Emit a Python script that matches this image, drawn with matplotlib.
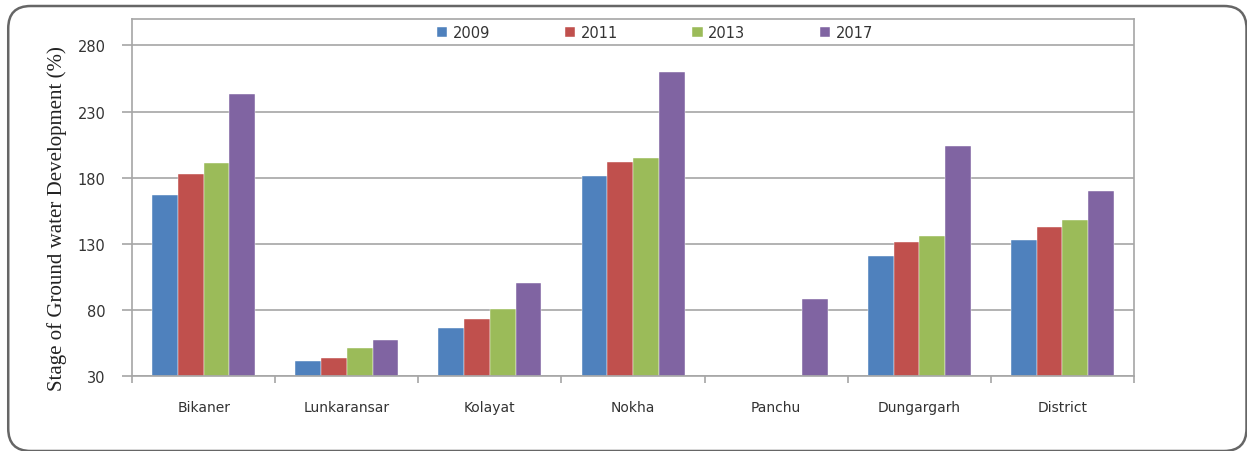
import matplotlib.pyplot as plt
import numpy as np
from matplotlib.patches import FancyBboxPatch

blocks = ["Bikaner", "Lunkaransar", "Kolayat", "Nokha", "Panchu", "Dungargarh", "District"]
years = ["2009", "2011", "2013", "2017"]
v2009 = [167, 41, 66, 181, np.nan, 121, 133]
v2011 = [183, 44, 73, 192, np.nan, 131, 143]
v2013 = [191, 51, 81, 195, np.nan, 136, 148]
v2017 = [243, 57, 100, 260, 88, 204, 170]
colors = ["#4F81BD", "#C0504D", "#9BBB59", "#8064A2"]

fig = plt.figure(figsize=(12.47, 4.52), dpi=100)
# rounded outer frame
frame = FancyBboxPatch(
    (0.0066, 0.0), 0.993, 0.9845,
    boxstyle="round,pad=0,rounding_size=0.018",
    transform=fig.transFigure, fill=False, edgecolor="#666666",
    linewidth=1.8, mutation_aspect=1247 / 452, zorder=0,
)
fig.patches.append(frame)

ax = fig.add_axes([0.1059, 0.1659, 0.8035, 0.7899])
x = np.arange(len(blocks))
w = 0.18
for i, (vals, c, lab) in enumerate(zip([v2009, v2011, v2013, v2017], colors, years)):
    vals = np.array(vals, dtype=float)
    ax.bar(x + (i - 1.5) * w, vals - 30, w, bottom=30, color=c, label=lab,
           edgecolor="white", linewidth=0.3)

ax.set_xlim(-0.5, len(blocks) - 0.5)
ax.set_ylim(30, 300)
ax.set_yticks([30, 80, 130, 180, 230, 280])
ax.yaxis.grid(True, color="#a6a6a6", linewidth=1.2)
ax.set_axisbelow(True)
for s in ax.spines.values():
    s.set_color("#a6a6a6")
    s.set_linewidth(1.2)

ax.set_xticks(x)
ax.set_xticklabels(blocks, fontsize=10, color="#333333")
ax.set_xticks(np.arange(-0.5, len(blocks)), minor=True)
ax.tick_params(axis="x", which="major", length=0, pad=17)
ax.tick_params(axis="x", which="minor", length=5, color="#a6a6a6", width=1.2)
ax.tick_params(axis="y", length=7, color="#a6a6a6", width=1.2, labelsize=10.5,
               labelcolor="#333333", pad=12)

fig.text(57 / 1247, 1 - 219 / 452, "Stage of Ground water Development (%)",
         family="Liberation Serif", fontsize=15, rotation=90,
         ha="center", va="center", color="#222222")

ax.legend(loc="center", bbox_to_anchor=(0.522, 0.962), ncol=4, frameon=False,
          handlelength=0.7, handleheight=0.7, columnspacing=5.1, handletextpad=0.4,
          prop={"size": 10.5})
for t in ax.get_legend().get_texts():
    t.set_color("#333333")

fig.savefig("out.png", dpi=100)
